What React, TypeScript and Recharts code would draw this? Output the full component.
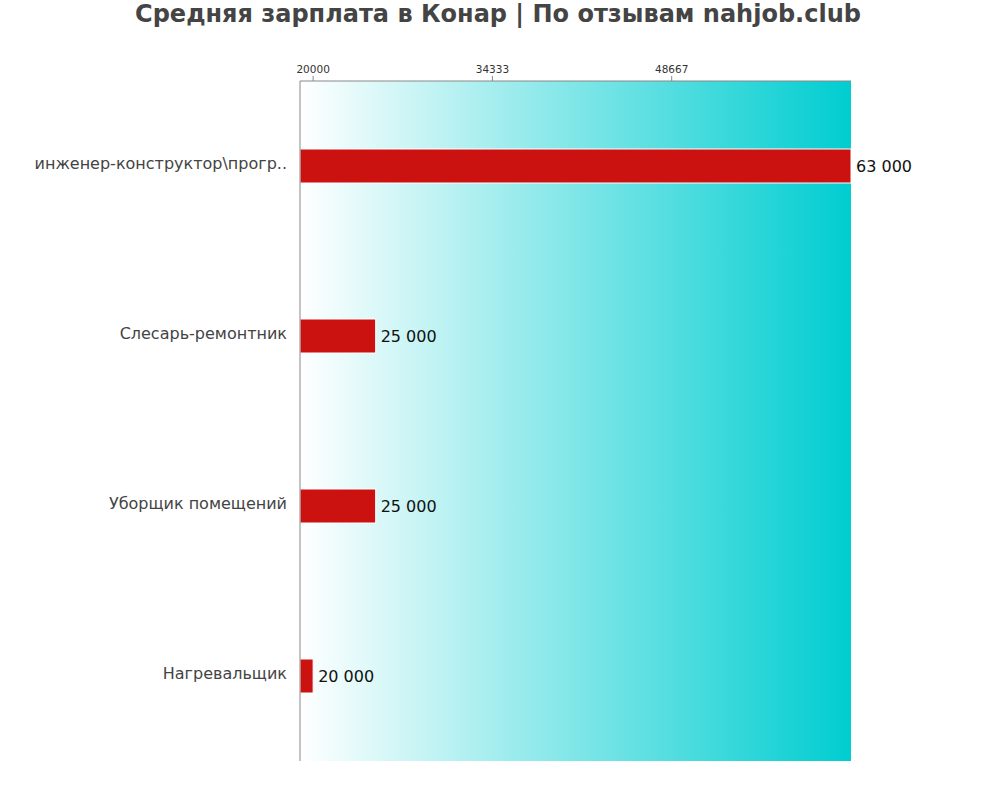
import React from 'react';
import { BarChart, Bar, XAxis, YAxis, CartesianGrid, LabelList } from 'recharts';

const categories = ['инженер-конструктор\\прогр..', 'Слесарь-ремонтник', 'Уборщик помещений', 'Нагревальщик'];
const salaries = [63000, 25000, 25000, 20000];
const xTicks = [20000, 34333, 48667];

const data = categories.map((name, i) => ({ name, salary: salaries[i] }));

const fmt = (v: number) => String(v).replace(/\B(?=(\d{3})+(?!\d))/g, ' ');

const FONT = '"DejaVu Sans", sans-serif';

const App: React.FC = () => {
  return (
    <div style={{ position: 'absolute', left: 0, top: 0, width: 1000, height: 800, background: '#fff', fontFamily: FONT }}>
      <div
        style={{
          position: 'absolute',
          top: 0,
          left: 0,
          width: 996,
          textAlign: 'center',
          fontSize: 24,
          fontWeight: 'bold',
          color: '#444',
        }}
      >
        Средняя зарплата в Конар | По отзывам nahjob.club
      </div>
      <BarChart
        width={1000}
        height={800}
        data={data}
        layout="vertical"
        margin={{ top: 51, right: 149, left: 0, bottom: 39 }}
        barCategoryGap={0}
      >
        <defs>
          <linearGradient id="bg" x1="0" y1="0" x2="1" y2="0">
            <stop offset="0%" stopColor="#ffffff" />
            <stop offset="100%" stopColor="#00cdd0" />
          </linearGradient>
        </defs>
        <CartesianGrid horizontal={false} vertical={false} fill="url(#bg)" />
        <XAxis
          type="number"
          orientation="top"
          domain={[18950, 63000]}
          ticks={xTicks}
          height={30}
          tickSize={5}
          tickMargin={3}
          stroke="#888"
          tick={{ fontSize: 10.5, fill: '#333', fontFamily: FONT }}
          allowDataOverflow
        />
        <YAxis
          type="category"
          dataKey="name"
          width={300}
          tickLine={false}
          tickSize={6}
          tickMargin={7}
          stroke="#888"
          tick={{ fontSize: 16, fill: '#444', fontFamily: FONT, dy: -3 }}
        />
        <Bar dataKey="salary" fill="#cc1111" stroke="#ffffff" strokeWidth={1} barSize={34} isAnimationActive={false}>
          <LabelList
            dataKey="salary"
            position="right"
            offset={5}
            formatter={(v: any) => fmt(Number(v))}
            style={{ fontSize: 16, fill: '#111', fontFamily: FONT }}
          />
        </Bar>
      </BarChart>
    </div>
  );
};

export default App;
